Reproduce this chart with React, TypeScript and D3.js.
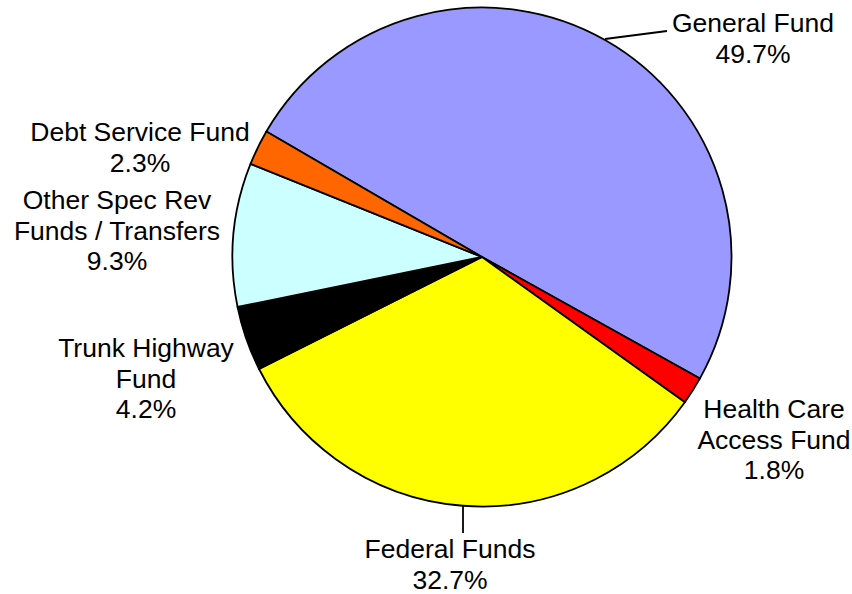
import React from "react";
import * as d3 from "d3";

const categories = [
  "General Fund",
  "Health Care Access Fund",
  "Federal Funds",
  "Trunk Highway Fund",
  "Other Spec Rev Funds / Transfers",
  "Debt Service Fund",
];
const values = [49.7, 1.8, 32.7, 4.2, 9.3, 2.3];
const colors = ["#9999FF", "#FF0000", "#FFFF00", "#000000", "#CCFFFF", "#FF6600"];
const labelLines = [
  ["General Fund", "49.7%"],
  ["Health Care", "Access Fund", "1.8%"],
  ["Federal Funds", "32.7%"],
  ["Trunk Highway", "Fund", "4.2%"],
  ["Other Spec Rev", "Funds / Transfers", "9.3%"],
  ["Debt Service Fund", "2.3%"],
];

const W = 852;
const H = 594;
const cx = 482;
const cy = 257;
const R = 249.5;
const start = (-59.8 * Math.PI) / 180;

// label anchor positions (center x, first baseline y)
const labelPos: [number, number][] = [
  [753, 32],
  [774, 418],
  [450, 558],
  [146, 357],
  [117, 209],
  [140, 141],
];

export default function App() {
  const pie = d3
    .pie<number>()
    .sort(null)
    .value((d) => d)
    .startAngle(start)
    .endAngle(start + 2 * Math.PI);
  const arcs = pie(values);
  const arc = d3.arc<d3.PieArcDatum<number>>().innerRadius(0).outerRadius(R);
  const lineH = 30.5;

  return (
    <svg width={W} height={H} style={{ position: "absolute", left: 0, top: 0, background: "#fff" }}>
      <g transform={`translate(${cx},${cy})`}>
        {arcs.map((a, i) => (
          <path
            key={categories[i]}
            d={arc(a) || ""}
            fill={colors[i]}
            stroke="#000"
            strokeWidth={1.8}
            strokeLinejoin="round"
          />
        ))}
      </g>
      <polyline points="605,39 667,31" fill="none" stroke="#000" strokeWidth={1.8} />
      <line x1={463} y1={506} x2={463} y2={533} stroke="#000" strokeWidth={1.8} />
      {labelLines.map((lines, i) => (
        <text
          key={categories[i]}
          x={labelPos[i][0]}
          y={labelPos[i][1]}
          textAnchor="middle"
          fontFamily="'Liberation Sans', Arial, sans-serif"
          fontSize={26.5}
          fill="#000"
        >
          {lines.map((l, j) => (
            <tspan key={j} x={labelPos[i][0]} y={labelPos[i][1] + j * lineH}>
              {l}
            </tspan>
          ))}
        </text>
      ))}
    </svg>
  );
}
